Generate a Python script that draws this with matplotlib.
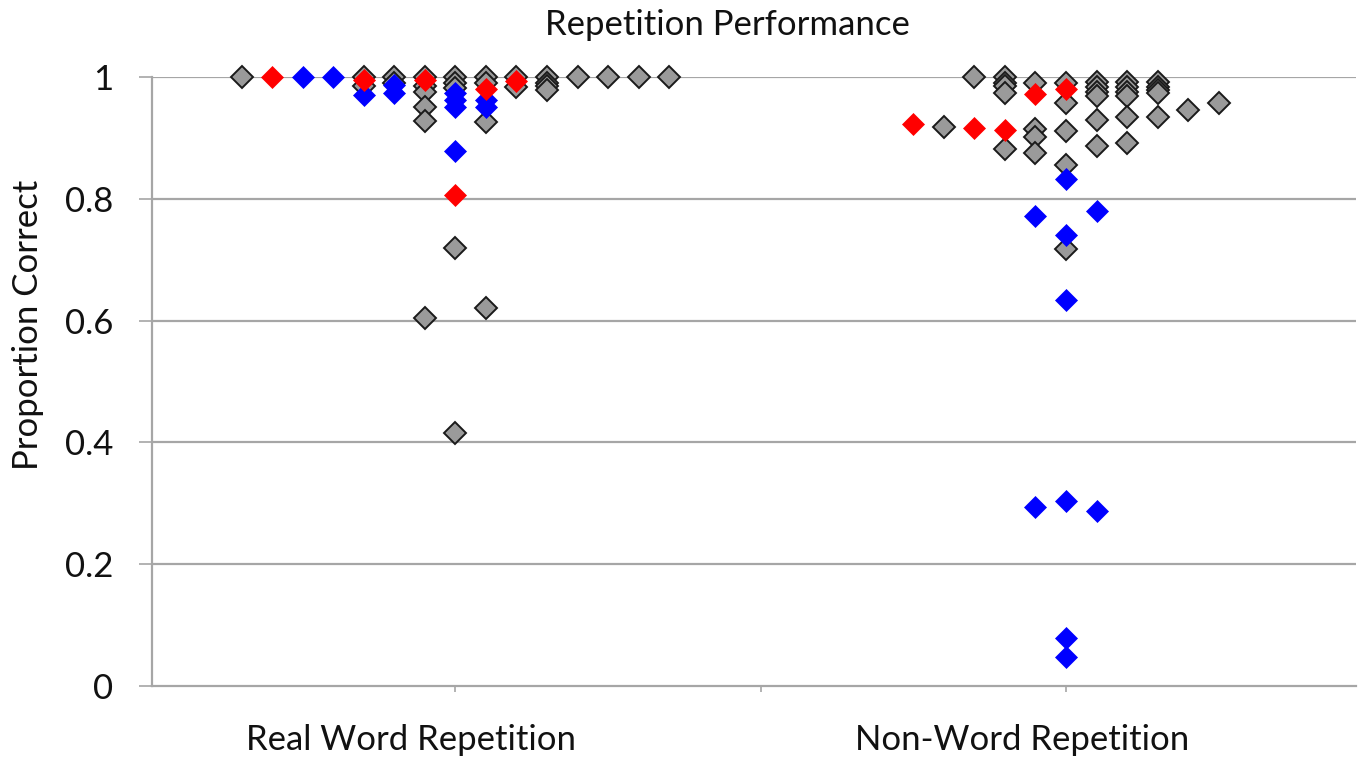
import matplotlib
matplotlib.use("Agg")
import matplotlib.pyplot as plt
import matplotlib.transforms as mtransforms

# ---------------- data ----------------
categories = ["Real Word Repetition", "Non-Word Repetition"]
yticks = [0, 0.2, 0.4, 0.6, 0.8, 1.0]
ytick_labels = ["0", "0.2", "0.4", "0.6", "0.8", "1"]

# Real word repetition: values and swarm column index (side-by-side slot)
real_gray_vals = [1.0,
                  1.0, 0.985,
                  1.0, 0.99,
                  1.0, 0.985, 0.975, 0.95, 0.928, 0.605,
                  1.0, 0.99, 0.982, 0.72, 0.415,
                  1.0, 0.99, 0.926, 0.621,
                  1.0, 0.983,
                  1.0, 0.99, 0.985, 0.978,
                  1.0, 1.0, 1.0, 1.0]
real_gray_cols = [-7,
                  -3, -3,
                  -2, -2,
                  -1, -1, -1, -1, -1, -1,
                  0, 0, 0, 0, 0,
                  1, 1, 1, 1,
                  2, 2,
                  3, 3, 3, 3,
                  4, 5, 6, 7]
real_red_vals = [1.0, 0.995, 0.995, 0.806, 0.980, 0.993]
real_red_cols = [-6, -3, -1, 0, 1, 2]
real_blue_vals = [1.0, 1.0, 0.97, 0.987, 0.974, 0.974, 0.962, 0.951, 0.878, 0.962, 0.951]
real_blue_cols = [-5, -4, -3, -2, -2, 0, 0, 0, 0, 1, 1]

# Non-word repetition
non_gray_vals = [0.918,
                 1.0,
                 1.0, 0.99, 0.985, 0.973, 0.882,
                 0.99, 0.915, 0.902, 0.876,
                 0.99, 0.957, 0.911, 0.856, 0.717,
                 0.992, 0.984, 0.976, 0.968, 0.929, 0.887,
                 0.992, 0.984, 0.976, 0.968, 0.935, 0.891,
                 0.992, 0.984, 0.979, 0.974, 0.935,
                 0.946,
                 0.957]
non_gray_cols = [-4,
                 -3,
                 -2, -2, -2, -2, -2,
                 -1, -1, -1, -1,
                 0, 0, 0, 0, 0,
                 1, 1, 1, 1, 1, 1,
                 2, 2, 2, 2, 2, 2,
                 3, 3, 3, 3, 3,
                 4,
                 5]
non_red_vals = [0.923, 0.917, 0.913, 0.972, 0.980]
non_red_cols = [-5, -3, -2, -1, 0]
non_blue_vals = [0.772, 0.294, 0.833, 0.741, 0.634, 0.303, 0.079, 0.048, 0.780, 0.287]
non_blue_cols = [-1, -1, 0, 0, 0, 0, 0, 0, 1, 1]

# ---------------- style ----------------
FONT = "Lato"
plt.rcParams["font.family"] = [FONT, "DejaVu Sans"]
GRID = "#a6a6a6"
GRAY_FILL = "#9a9a9a"
RED = "#ff0000"
BLUE = "#0000ff"
STEP = 0.05  # swarm slot width in category units
TXT = "#111111"

W, H = 1361, 762
fig = plt.figure(figsize=(W / 100, H / 100), dpi=100)
ax = fig.add_axes([152 / W, (H - 686) / H, (1356 - 152) / W, (686 - 77) / H])

ax.set_xlim(0.503, 2.475)
ax.set_ylim(0, 1)

for y in yticks[1:]:
    ax.axhline(y, color=GRID, lw=1.6, zorder=0)

for s in ["top", "right"]:
    ax.spines[s].set_visible(False)
for s in ["left", "bottom"]:
    ax.spines[s].set_color(GRID)
    ax.spines[s].set_linewidth(1.6)

ax.set_yticks(yticks)
ax.set_yticklabels(ytick_labels)
ax.tick_params(axis="y", length=9.5, width=1.2, color=GRID, pad=18.5,
               labelsize=25, labelcolor=TXT)
ax.set_xticks([1, 1.5, 2])
ax.set_xticklabels([])
ax.tick_params(axis="x", length=4, width=1.2, color=GRID, direction="out")


def swarm(cat, cols, vals, **kw):
    xs = [cat + c * STEP for c in cols]
    ax.plot(xs, vals, linestyle="none", marker="D", clip_on=False, **kw)


for cat, gv, gc in [(1, real_gray_vals, real_gray_cols), (2, non_gray_vals, non_gray_cols)]:
    swarm(cat, gc, gv, markersize=10.8, markerfacecolor=GRAY_FILL,
          markeredgecolor="#1a1a1a", markeredgewidth=1.4, zorder=3)
for cat, bv, bc in [(1, real_blue_vals, real_blue_cols), (2, non_blue_vals, non_blue_cols)]:
    swarm(cat, bc, bv, markersize=11.3, markerfacecolor=BLUE,
          markeredgecolor=BLUE, markeredgewidth=0.5, zorder=4)
for cat, rv, rc in [(1, real_red_vals, real_red_cols), (2, non_red_vals, non_red_cols)]:
    swarm(cat, rc, rv, markersize=11.3, markerfacecolor=RED,
          markeredgecolor=RED, markeredgewidth=0.5, zorder=5)

# category labels (slightly left of the category centre, as in the reference)
trans = mtransforms.blended_transform_factory(ax.transData, fig.transFigure)
for i, name in enumerate(categories):
    ax.text(i + 1 - 0.072, 1 - 740 / H, name, transform=trans, ha="center",
            va="center", fontsize=25, color=TXT)

fig.text(727 / W, 1 - 25 / H, "Repetition Performance", ha="center",
         va="center", fontsize=25, color=TXT)
fig.text(28 / W, 1 - 325 / H, "Proportion Correct", rotation=90, ha="center",
         va="center", fontsize=25, color=TXT)

fig.savefig("out.png", dpi=100, facecolor="white")
